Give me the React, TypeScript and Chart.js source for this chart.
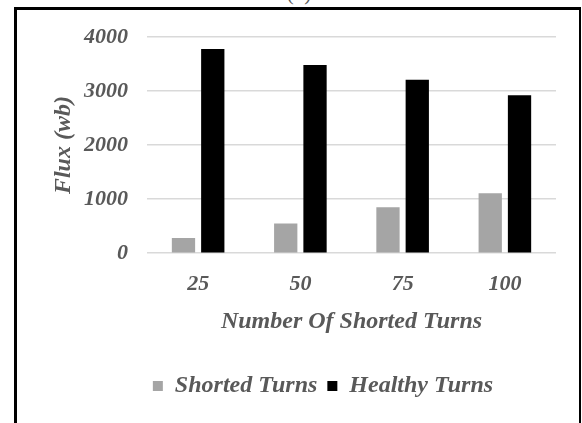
import React, { useEffect, useRef } from "react";
import { Chart, registerables } from "chart.js";

Chart.register(...registerables);

const categories = ["25", "50", "75", "100"];
const shortedTurns = [280, 550, 850, 1110];
const healthyTurns = [3780, 3480, 3210, 2920];
const yTicks = [0, 1000, 2000, 3000, 4000];

const FONT = "'Liberation Serif', 'Times New Roman', serif";
const TEXT = "#595959";

// Nudges the bottom legend sideways after layout so it sits under the plot.
const legendShift = {
  id: "legendShift",
  afterLayout(chart: any) {
    const lg = chart.legend;
    if (lg) {
      lg.left += 25;
      lg.right += 25;
    }
  },
};

export default function App() {
  const canvasRef = useRef<HTMLCanvasElement | null>(null);

  useEffect(() => {
    const canvas = canvasRef.current;
    if (!canvas) return;
    const chart = new Chart(canvas, {
      type: "bar",
      data: {
        labels: categories,
        datasets: [
          {
            label: "Shorted Turns",
            data: shortedTurns,
            backgroundColor: "#A5A5A5",
            categoryPercentage: 0.573,
            barPercentage: 0.795,
          },
          {
            label: "Healthy Turns",
            data: healthyTurns,
            backgroundColor: "#000000",
            categoryPercentage: 0.573,
            barPercentage: 0.795,
          },
        ],
      },
      plugins: [legendShift],
      options: {
        responsive: false,
        animation: false,
        events: [],
        layout: { padding: { left: 40, right: 26, top: 37, bottom: 15 } },
        plugins: {
          tooltip: { enabled: false },
          legend: {
            position: "bottom",
            labels: {
              boxWidth: 10,
              boxHeight: 10,
              padding: 10,
              color: TEXT,
              font: { family: FONT, size: 24, style: "italic", weight: "bold" },
            },
          },
        },
        scales: {
          x: {
            grid: { display: false },
            border: { display: false },
            ticks: {
              color: TEXT,
              padding: 10,
              font: { family: FONT, size: 22, style: "italic", weight: "bold" },
            },
            title: {
              display: true,
              text: "Number Of Shorted Turns",
              color: TEXT,
              padding: { top: 0, bottom: 28 },
              font: { family: FONT, size: 24, style: "italic", weight: "bold" },
            },
            afterFit: (scale: any) => {
              scale.height = 110.8;
            },
          },
          y: {
            min: 0,
            max: 4000,
            afterBuildTicks: (scale: any) => {
              scale.ticks = yTicks.map((v) => ({ value: v }));
            },
            grid: { color: "#D9D9D9", lineWidth: 1.5, drawTicks: false },
            border: { display: false },
            ticks: {
              color: TEXT,
              padding: 19,
              callback: (v: any) => String(v),
              font: { family: FONT, size: 22, style: "italic", weight: "bold" },
            },
            title: {
              display: true,
              text: "Flux (wb)",
              color: TEXT,
              padding: { top: 9.6, bottom: 0 },
              font: { family: FONT, size: 24, style: "italic", weight: "bold" },
            },
            afterFit: (scale: any) => {
              scale.width = 107;
            },
          },
        },
      },
    });
    return () => chart.destroy();
  }, []);

  return (
    <div
      style={{
        position: "absolute",
        left: 0,
        top: 0,
        width: 582,
        height: 423,
        overflow: "hidden",
        background: "#fff",
      }}
    >
      <div
        style={{
          position: "absolute",
          left: 0,
          top: -19,
          width: 598,
          textAlign: "center",
          fontFamily: FONT,
          fontSize: 21,
          color: TEXT,
        }}
      >
        (b)
      </div>
      <div
        style={{
          position: "absolute",
          left: 14,
          top: 7,
          width: 562,
          height: 500,
          borderTop: "3px solid #000",
          borderLeft: "3px solid #000",
          borderRight: "2px solid #000",
          background: "#fff",
        }}
      />
      <canvas
        ref={canvasRef}
        width={582}
        height={423}
        style={{ position: "absolute", left: 0, top: 0 }}
      />
    </div>
  );
}
